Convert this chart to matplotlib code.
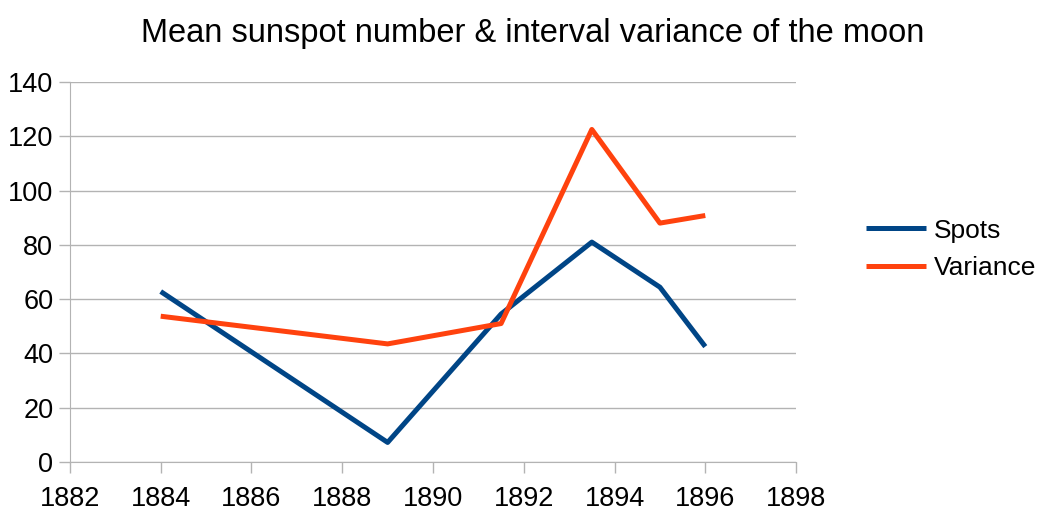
import matplotlib.pyplot as plt

plt.rcParams['font.family'] = ['Liberation Sans', 'DejaVu Sans']

years = [1884, 1889, 1891.5, 1893.5, 1895, 1896]
spots = [62.8, 7.2, 54.5, 81.0, 64.4, 42.5]
variance = [53.7, 43.5, 51.0, 122.5, 88.0, 90.8]

x_ticks = list(range(1882, 1899, 2))
y_ticks = list(range(0, 141, 20))

fig = plt.figure(figsize=(10.44, 5.12), dpi=100)
ax = fig.add_axes([0.067, 0.0977, 0.6955, 0.7422])

grid_col = '#b3b3b3'
ax.plot(years, spots, color='#004586', lw=3.6, label='Spots', solid_capstyle='butt')
ax.plot(years, variance, color='#ff420e', lw=3.6, label='Variance', solid_capstyle='butt')

ax.set_xlim(1882, 1898)
ax.set_ylim(0, 140)
ax.set_xticks(x_ticks)
ax.set_yticks(y_ticks)
ax.yaxis.grid(True, color=grid_col, lw=1)
ax.set_axisbelow(True)
for s in ['top', 'right']:
    ax.spines[s].set_visible(False)
for s in ['left', 'bottom']:
    ax.spines[s].set_color(grid_col)
ax.tick_params(axis='both', colors=grid_col, labelcolor='black', labelsize=19.5, length=8, width=1)
ax.tick_params(axis='x', pad=9)
ax.tick_params(axis='y', pad=4)

fig.suptitle('Mean sunspot number & interval variance of the moon', fontsize=23.5, x=0.51, y=0.965)

ax.legend(loc='center left', bbox_to_anchor=(1.063, 0.56), frameon=False, fontsize=19,
          handlelength=2.3, handletextpad=0.3, labelspacing=0.5)

fig.savefig('out.png', dpi=100)
